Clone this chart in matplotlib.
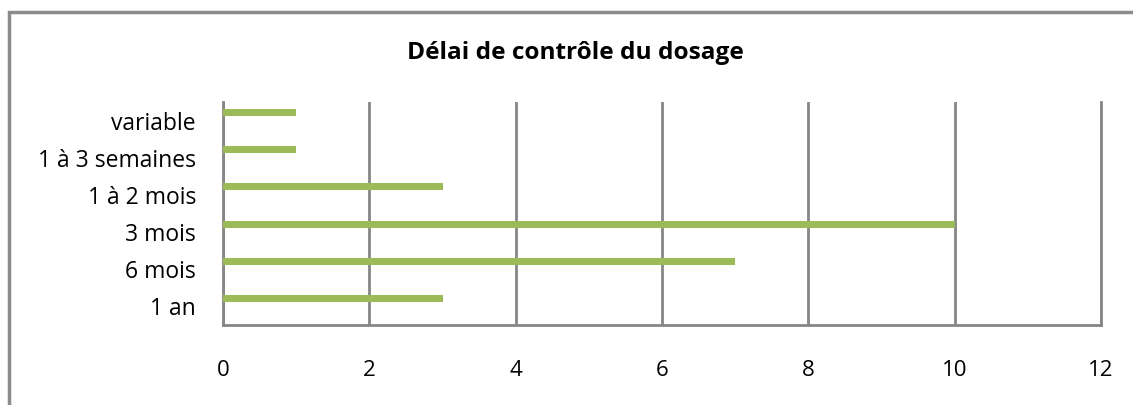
"""Délai de contrôle du dosage : barres horizontales façon Excel."""
import matplotlib
matplotlib.use("Agg")
import matplotlib.pyplot as plt
from matplotlib.patches import Rectangle

categories = ["1 an", "6 mois", "3 mois", "1 à 2 mois", "1 à 3 semaines", "variable"]
values = [3, 7, 10, 3, 1, 1]
xticks = [0, 2, 4, 6, 8, 10, 12]

BAR_COLOR = "#9BBB59"
GRID_COLOR = "#868686"

plt.rcParams["font.family"] = ["Open Sans", "DejaVu Sans"]

fig = plt.figure(figsize=(11.33, 4.05), dpi=100)
ax = fig.add_axes([223 / 1133, 1 - 325 / 405, (1101 - 223) / 1133, (325 - 102) / 405])

# Excel décale les barres vers le haut dans chaque catégorie
pos = [i + 0.5 for i in range(len(categories))]
ax.barh([p + 0.215 for p in pos], values, height=0.19, color=BAR_COLOR, zorder=3)

ax.set_xlim(0, 12)
ax.set_ylim(0, len(categories))
ax.set_xticks(xticks)
ax.set_xticklabels([str(t) for t in xticks], fontsize=16)
ax.set_yticks(pos)
ax.set_yticklabels(categories, fontsize=16.5)
ax.tick_params(axis="x", length=0, pad=25)
ax.tick_params(axis="y", length=0, pad=19.5)
ax.xaxis.grid(True, color=GRID_COLOR, linewidth=2, zorder=1)
ax.set_axisbelow(True)
ax.spines["top"].set_visible(False)
for side in ("left", "bottom", "right"):
    ax.spines[side].set_color(GRID_COLOR)
    ax.spines[side].set_linewidth(2)

fig.text(0.5075, 1 - 53 / 405, "Délai de contrôle du dosage", ha="center", va="center",
         fontsize=17.6, fontweight="bold")

# cadre extérieur du graphique
fig.patches.append(Rectangle((8.5 / 1133, -0.1), 1.2, 1 - 12 / 405 + 0.1, transform=fig.transFigure,
                             fill=False, edgecolor="#8C8C8C", linewidth=2.5))

fig.savefig("out.png", dpi=100)
